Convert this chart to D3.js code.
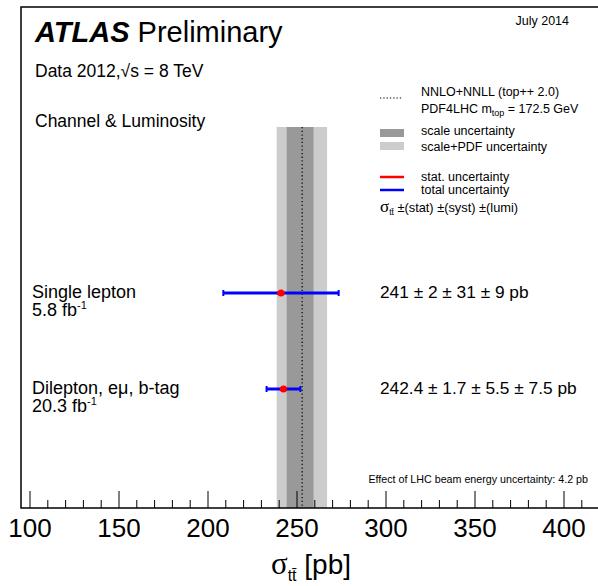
<!DOCTYPE html>
<meta charset="utf-8">
<script src="https://d3js.org/d3.v7.min.js"></script>
<style>
  body { margin: 0; background: #fff; }
  text { font-family: "Liberation Sans", Arial, sans-serif; fill: #000; }
  .sym { font-family: "Liberation Serif", "DejaVu Serif", serif; }
</style>
<svg id="chart" width="598" height="586"></svg>
<script>
// measurements per channel
var channels = ["Single lepton", "Dilepton, eμ, b-tag"];
var lumis = ["5.8", "20.3"];
var xsec = [241, 242.4];
var statErr = [2, 1.7];
var systErr = [31, 5.5];
var lumiErr = [9, 7.5];
var totalErr = [32.4, 9.5];
var resultText = ["241 ± 2 ± 31 ± 9 pb", "242.4 ± 1.7 ± 5.5 ± 7.5 pb"];

// theory prediction (top++ 2.0)
var theory = 252.9;
var scaleBand = [244.2, 259.3];
var pdfBand = [238.6, 266.9];

var majorTicks = [100, 150, 200, 250, 300, 350, 400];
var minorTicks = d3.range(100, 420, 10);

var svg = d3.select("#chart");

var x = d3.scaleLinear().domain([100, 400]).range([30, 564]);
var y = d3.scaleLinear().domain([0, 1]).range([293, 389]);

var frameTop = 7, axisY = 508, bandTop = 127;

// bands
svg.append("rect")
    .attr("x", x(pdfBand[0])).attr("width", x(pdfBand[1]) - x(pdfBand[0]))
    .attr("y", bandTop).attr("height", axisY - bandTop)
    .attr("fill", "#cccccc");
svg.append("rect")
    .attr("x", x(scaleBand[0])).attr("width", x(scaleBand[1]) - x(scaleBand[0]))
    .attr("y", bandTop).attr("height", axisY - bandTop)
    .attr("fill", "#999999");
svg.append("line")
    .attr("x1", x(theory)).attr("x2", x(theory))
    .attr("y1", bandTop).attr("y2", axisY)
    .attr("stroke", "#000").attr("stroke-width", 1.2)
    .attr("stroke-dasharray", "1.3,2.4");

// frame
svg.append("path")
    .attr("d", "M620," + frameTop + "H21V" + axisY + "H620")
    .attr("fill", "none").attr("stroke", "#000").attr("stroke-width", 1.5);

// ticks (drawn inward)
svg.append("g").selectAll("line.minor")
    .data(minorTicks)
    .enter().append("line")
    .attr("x1", function(d) { return x(d); })
    .attr("x2", function(d) { return x(d); })
    .attr("y1", axisY)
    .attr("y2", function(d) { return majorTicks.indexOf(d) >= 0 ? axisY - 17 : axisY - 8; })
    .attr("stroke", "#000").attr("stroke-width", 1);

svg.append("g").selectAll("text")
    .data(majorTicks)
    .enter().append("text")
    .attr("x", function(d) { return x(d); })
    .attr("y", 537)
    .attr("text-anchor", "middle")
    .style("font-size", "26px")
    .text(function(d) { return d; });

// axis title
var xt = svg.append("text").attr("x", 311).attr("y", 574)
    .attr("text-anchor", "middle").style("font-size", "28px");
xt.append("tspan").attr("class", "sym").style("font-size", "31px").text("σ");
xt.append("tspan").attr("dy", 7).style("font-size", "16px").text("tt̄");
xt.append("tspan").attr("dy", -7).text(" [pb]");

// header texts
var t = svg.append("text").attr("x", 35).attr("y", 42).style("font-size", "29px");
t.append("tspan").style("font-weight", "bold").style("font-style", "italic").text("ATLAS");
t.append("tspan").text(" Preliminary");

svg.append("text").attr("x", 569).attr("y", 25).attr("text-anchor", "end")
    .style("font-size", "12.5px").text("July 2014");

svg.append("text").attr("x", 35).attr("y", 77).style("font-size", "17.5px")
    .text("Data 2012,√s = 8 TeV");
svg.append("text").attr("x", 35).attr("y", 127).style("font-size", "17.5px")
    .text("Channel & Luminosity");

// legend
var lx = 380, tx = 421;
svg.append("line").attr("x1", lx).attr("x2", lx + 22).attr("y1", 98).attr("y2", 98)
    .attr("stroke", "#000").attr("stroke-width", 1.2).attr("stroke-dasharray", "1.3,2");
svg.append("text").attr("x", tx).attr("y", 96).style("font-size", "12.5px").text("NNLO+NNLL (top++ 2.0)");
var pt = svg.append("text").attr("x", tx).attr("y", 113).style("font-size", "12.5px");
pt.append("tspan").text("PDF4LHC m");
pt.append("tspan").attr("dy", 3).style("font-size", "9px").text("top");
pt.append("tspan").attr("dy", -3).text(" = 172.5 GeV");

svg.append("rect").attr("x", lx).attr("y", 129).attr("width", 24).attr("height", 8).attr("fill", "#999999");
svg.append("text").attr("x", tx).attr("y", 135).style("font-size", "12.5px").text("scale uncertainty");
svg.append("rect").attr("x", lx).attr("y", 142).attr("width", 24).attr("height", 8).attr("fill", "#cccccc");
svg.append("text").attr("x", tx).attr("y", 151).style("font-size", "12.5px").text("scale+PDF uncertainty");

svg.append("line").attr("x1", lx).attr("x2", lx + 24).attr("y1", 177).attr("y2", 177)
    .attr("stroke", "#ff0000").attr("stroke-width", 2.5);
svg.append("text").attr("x", tx).attr("y", 181).style("font-size", "12.5px").text("stat. uncertainty");
svg.append("line").attr("x1", lx).attr("x2", lx + 24).attr("y1", 190).attr("y2", 190)
    .attr("stroke", "#0000ff").attr("stroke-width", 2.5);
svg.append("text").attr("x", tx).attr("y", 193.5).style("font-size", "12.5px").text("total uncertainty");

var st = svg.append("text").attr("x", lx).attr("y", 212).style("font-size", "12.8px");
st.append("tspan").attr("class", "sym").style("font-size", "17px").text("σ");
st.append("tspan").attr("dy", 3).style("font-size", "8.5px").text("tt̄");
st.append("tspan").attr("dy", -3).text(" ±(stat) ±(syst) ±(lumi)");

svg.append("text").attr("x", 588).attr("y", 483).attr("text-anchor", "end")
    .style("font-size", "10.7px").text("Effect of LHC beam energy uncertainty: 4.2 pb");

// measurements
var idx = d3.range(channels.length);
var g = svg.append("g");

g.selectAll("line.tot").data(idx).enter().append("line")
    .attr("x1", function(i) { return x(xsec[i] - totalErr[i]); })
    .attr("x2", function(i) { return x(xsec[i] + totalErr[i]); })
    .attr("y1", function(i) { return y(i); })
    .attr("y2", function(i) { return y(i); })
    .attr("stroke", "#0000ff").attr("stroke-width", 3);

idx.forEach(function(i) {
  [xsec[i] - totalErr[i], xsec[i] + totalErr[i]].forEach(function(v) {
    g.append("line").attr("x1", x(v)).attr("x2", x(v))
      .attr("y1", y(i) - 3).attr("y2", y(i) + 3)
      .attr("stroke", "#0000ff").attr("stroke-width", 2);
  });
});

g.selectAll("line.stat").data(idx).enter().append("line")
    .attr("x1", function(i) { return x(xsec[i] - statErr[i]); })
    .attr("x2", function(i) { return x(xsec[i] + statErr[i]); })
    .attr("y1", function(i) { return y(i); })
    .attr("y2", function(i) { return y(i); })
    .attr("stroke", "#ff0000").attr("stroke-width", 4);

g.selectAll("circle").data(idx).enter().append("circle")
    .attr("cx", function(i) { return x(xsec[i]); })
    .attr("cy", function(i) { return y(i); })
    .attr("r", 3.5).attr("fill", "#ff0000");

// channel labels
idx.forEach(function(i) {
  svg.append("text").attr("x", 32).attr("y", y(i) + 5).style("font-size", "18px").text(channels[i]);
  var l = svg.append("text").attr("x", 32).attr("y", y(i) + 23).style("font-size", "18px");
  l.append("tspan").text(lumis[i] + " fb");
  l.append("tspan").attr("dy", -7).style("font-size", "11px").text("-1");
  svg.append("text").attr("x", 380).attr("y", y(i) + 5).style("font-size", "17.3px").text(resultText[i]);
});
</script>
